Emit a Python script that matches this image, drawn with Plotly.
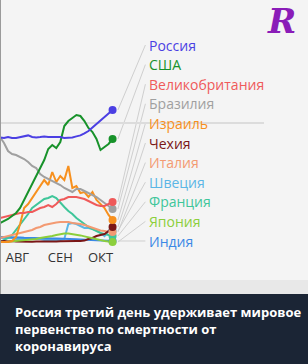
import pandas as pd
import plotly.graph_objects as go

# ---------------- data (deaths per million, 7-day avg) ----------------
start = pd.Timestamp("2021-07-27")
days = list(range(0, 85, 3))
dates = [start + pd.Timedelta(days=d) for d in days]

countries = ["Россия", "США", "Великобритания", "Бразилия", "Израиль", "Чехия",
             "Италия", "Швеция", "Франция", "Япония", "Индия"]
colors = ["#4b3fe3", "#17922a", "#ef5a5a", "#a0a0a0", "#f7901e", "#7a1616",
          "#f39a72", "#5bb6e6", "#3fc69a", "#8ccf3c", "#3a88e6"]

russia = [5.28, 5.25, 5.3, 5.25, 5.25, 5.3, 5.35, 5.38, 5.3, 5.28, 5.3, 5.33, 5.3, 5.3, 5.28,
          5.3, 5.25, 5.25, 5.28, 5.33, 5.38, 5.48, 5.6, 5.78, 5.95, 6.15, 6.33, 6.5, 6.65]
usa = [1.0, 1.1, 1.2, 1.35, 1.5, 1.75, 2.15, 2.55, 2.9, 3.35, 3.75, 4.15, 4.7, 4.9, 4.75,
       5.05, 5.85, 6.1, 6.25, 6.4, 6.35, 6.1, 5.75, 5.55, 5.2, 4.65, 4.8, 4.95, 5.2]
uk = [1.25, 1.3, 1.35, 1.4, 1.45, 1.5, 1.5, 1.55, 1.55, 1.65, 1.75, 1.8, 1.9, 1.8, 1.95,
      2.15, 2.2, 2.3, 2.3, 2.3, 2.25, 2.2, 2.1, 2.0, 1.9, 1.85, 1.85, 1.95, 2.05]
brazil = [5.3, 5.0, 4.6, 4.45, 4.4, 4.3, 4.2, 4.05, 3.85, 3.75, 3.45, 3.3, 3.2, 3.1, 3.0,
          2.9, 2.75, 2.65, 2.55, 2.7, 2.7, 2.6, 2.5, 2.4, 2.3, 2.15, 2.0, 1.85, 1.7]
israel = [0.05, 0.05, 0.05, 0.1, 0.3, 0.95, 1.75, 1.95, 2.25, 2.55, 2.85, 3.15, 2.9, 3.55, 3.05,
          3.35, 3.15, 3.85, 2.75, 2.85, 2.5, 2.55, 2.3, 2.55, 2.15, 1.95, 1.75, 1.4, 1.15]
czech = [0.08, 0.1, 0.08, 0.1, 0.08, 0.07, 0.08, 0.07, 0.06, 0.07, 0.06, 0.07, 0.08, 0.07, 0.08,
         0.09, 0.1, 0.1, 0.09, 0.1, 0.1, 0.12, 0.2, 0.25, 0.35, 0.4, 0.45, 0.6, 0.8]
italy = [0.25, 0.3, 0.35, 0.4, 0.45, 0.5, 0.55, 0.6, 0.65, 0.75, 0.8, 0.9, 0.95, 1.0, 1.03,
         1.05, 1.05, 1.05, 1.0, 0.98, 0.95, 0.9, 0.83, 0.75, 0.68, 0.63, 0.6, 0.55, 0.55]
sweden = [0.25, 0.25, 0.25, 0.25, 0.2, 0.2, 0.2, 0.2, 0.2, 0.2, 0.2, 0.15, 0.15, 0.15, 0.15,
          0.15, 0.2, 0.95, 1.0, 0.95, 0.85, 0.75, 0.75, 0.7, 0.65, 0.5, 0.35, 0.6, 0.6]
france = [0.05, 0.15, 0.25, 0.4, 0.65, 0.95, 1.2, 1.45, 1.75, 1.9, 2.05, 2.2, 2.25, 2.35, 2.25,
          2.0, 1.8, 1.6, 1.45, 1.25, 1.1, 0.95, 0.8, 0.7, 0.6, 0.5, 0.45, 0.4, 0.35]
japan = [0.03, 0.05, 0.05, 0.08, 0.1, 0.1, 0.13, 0.15, 0.18, 0.2, 0.25, 0.28, 0.3, 0.35, 0.4,
         0.45, 0.48, 0.48, 0.45, 0.43, 0.38, 0.33, 0.28, 0.23, 0.18, 0.13, 0.1, 0.08, 0.05]
india = [0.3, 0.3, 0.28, 0.28, 0.27, 0.27, 0.26, 0.26, 0.25, 0.25, 0.24, 0.24, 0.23, 0.23, 0.22,
         0.22, 0.21, 0.2, 0.2, 0.19, 0.18, 0.17, 0.16, 0.15, 0.14, 0.13, 0.12, 0.11, 0.1]

series = [russia, usa, uk, brazil, israel, czech, italy, sweden, france, japan, india]

tick_dates = ["2021-08-09", "2021-09-10", "2021-10-10"]
tick_text = ["АВГ", "СЕН", "ОКТ"]
grid_vals = [0, 6]

title = "Россия третий день удерживает мировое<br>первенство по смертности от<br>коронавируса"

# ---------------- figure ----------------
W, H = 308, 364
fig = go.Figure()

draw_order = [7, 10, 8, 6, 5, 9, 4, 3, 2, 1, 0]
for i in draw_order:
    fig.add_trace(go.Scatter(x=dates, y=series[i], mode="lines",
                             line=dict(color=colors[i], width=2),
                             hoverinfo="skip", showlegend=False, cliponaxis=False))
for i in draw_order:
    fig.add_trace(go.Scatter(x=[dates[-1]], y=[series[i][-1]], mode="markers",
                             marker=dict(color=colors[i], size=8),
                             hoverinfo="skip", showlegend=False, cliponaxis=False))

# labels and connectors
label_x = start + pd.Timedelta(days=108.5)
conn_x0 = dates[-1] + pd.Timedelta(days=4)
label_top, label_step = 9.9, 0.98
shapes = []
annotations = []
for i, name in enumerate(countries):
    ly = label_top - i * label_step
    shapes.append(dict(type="line", xref="x", yref="y",
                       x0=conn_x0, y0=series[i][-1], x1=label_x, y1=ly,
                       line=dict(color="#cfcfcf", width=1), layer="below"))
    annotations.append(dict(x=start + pd.Timedelta(days=110), y=ly, xref="x", yref="y",
                            text=name, showarrow=False, xanchor="left", yanchor="middle",
                            font=dict(family="Open Sans", size=14, color=colors[i])))

# bottom shadow, dark box, left border
shapes.append(dict(type="rect", xref="paper", yref="paper", x0=0, x1=1,
                   y0=(H - 294) / H, y1=(H - 280) / H, fillcolor="#e8e8e8",
                   line=dict(width=0), layer="below"))
shapes.append(dict(type="rect", xref="paper", yref="paper", x0=0, x1=1,
                   y0=0, y1=(H - 294) / H, fillcolor="#1b2535",
                   line=dict(width=0), layer="above"))
shapes.append(dict(type="line", xref="paper", yref="paper", x0=0.5 / W, x1=0.5 / W,
                   y0=(H - 294) / H, y1=1, line=dict(color="#9a9a9a", width=1), layer="above"))

annotations.append(dict(x=13 / W, y=(H - 328.5) / H, xref="paper", yref="paper",
                        text=title, showarrow=False, xanchor="left", yanchor="middle",
                        align="left",
                        font=dict(family="Open Sans", size=13, color="#ffffff", weight="bold")))
# logo
annotations.append(dict(x=281 / W, y=(H - 21) / H, xref="paper", yref="paper",
                        text="<b><i>R</i></b>", showarrow=False, xanchor="center",
                        yanchor="middle",
                        font=dict(family="DejaVu Serif", size=34, color="#8a1cb8")))

fig.update_layout(
    width=W, height=H,
    margin=dict(l=0, r=0, t=0, b=0),
    paper_bgcolor="#f4f4f4", plot_bgcolor="rgba(0,0,0,0)",
    shapes=shapes, annotations=annotations,
    xaxis=dict(domain=[0, 264 / W],
               range=[start, start + pd.Timedelta(days=197)],
               tickvals=tick_dates, ticktext=tick_text, showgrid=False,
               zeroline=False, showline=False, ticks="", ticklabelstandoff=5,
               tickfont=dict(family="Open Sans", size=13, color="#333333")),
    yaxis=dict(domain=[(H - 243) / H, (H - 30) / H], range=[0, (243 - 30) / 20],
               tickvals=grid_vals, showticklabels=False, showgrid=True,
               gridcolor="#dcdcdc", gridwidth=2, zeroline=False),
)

fig.write_html("out.html")
